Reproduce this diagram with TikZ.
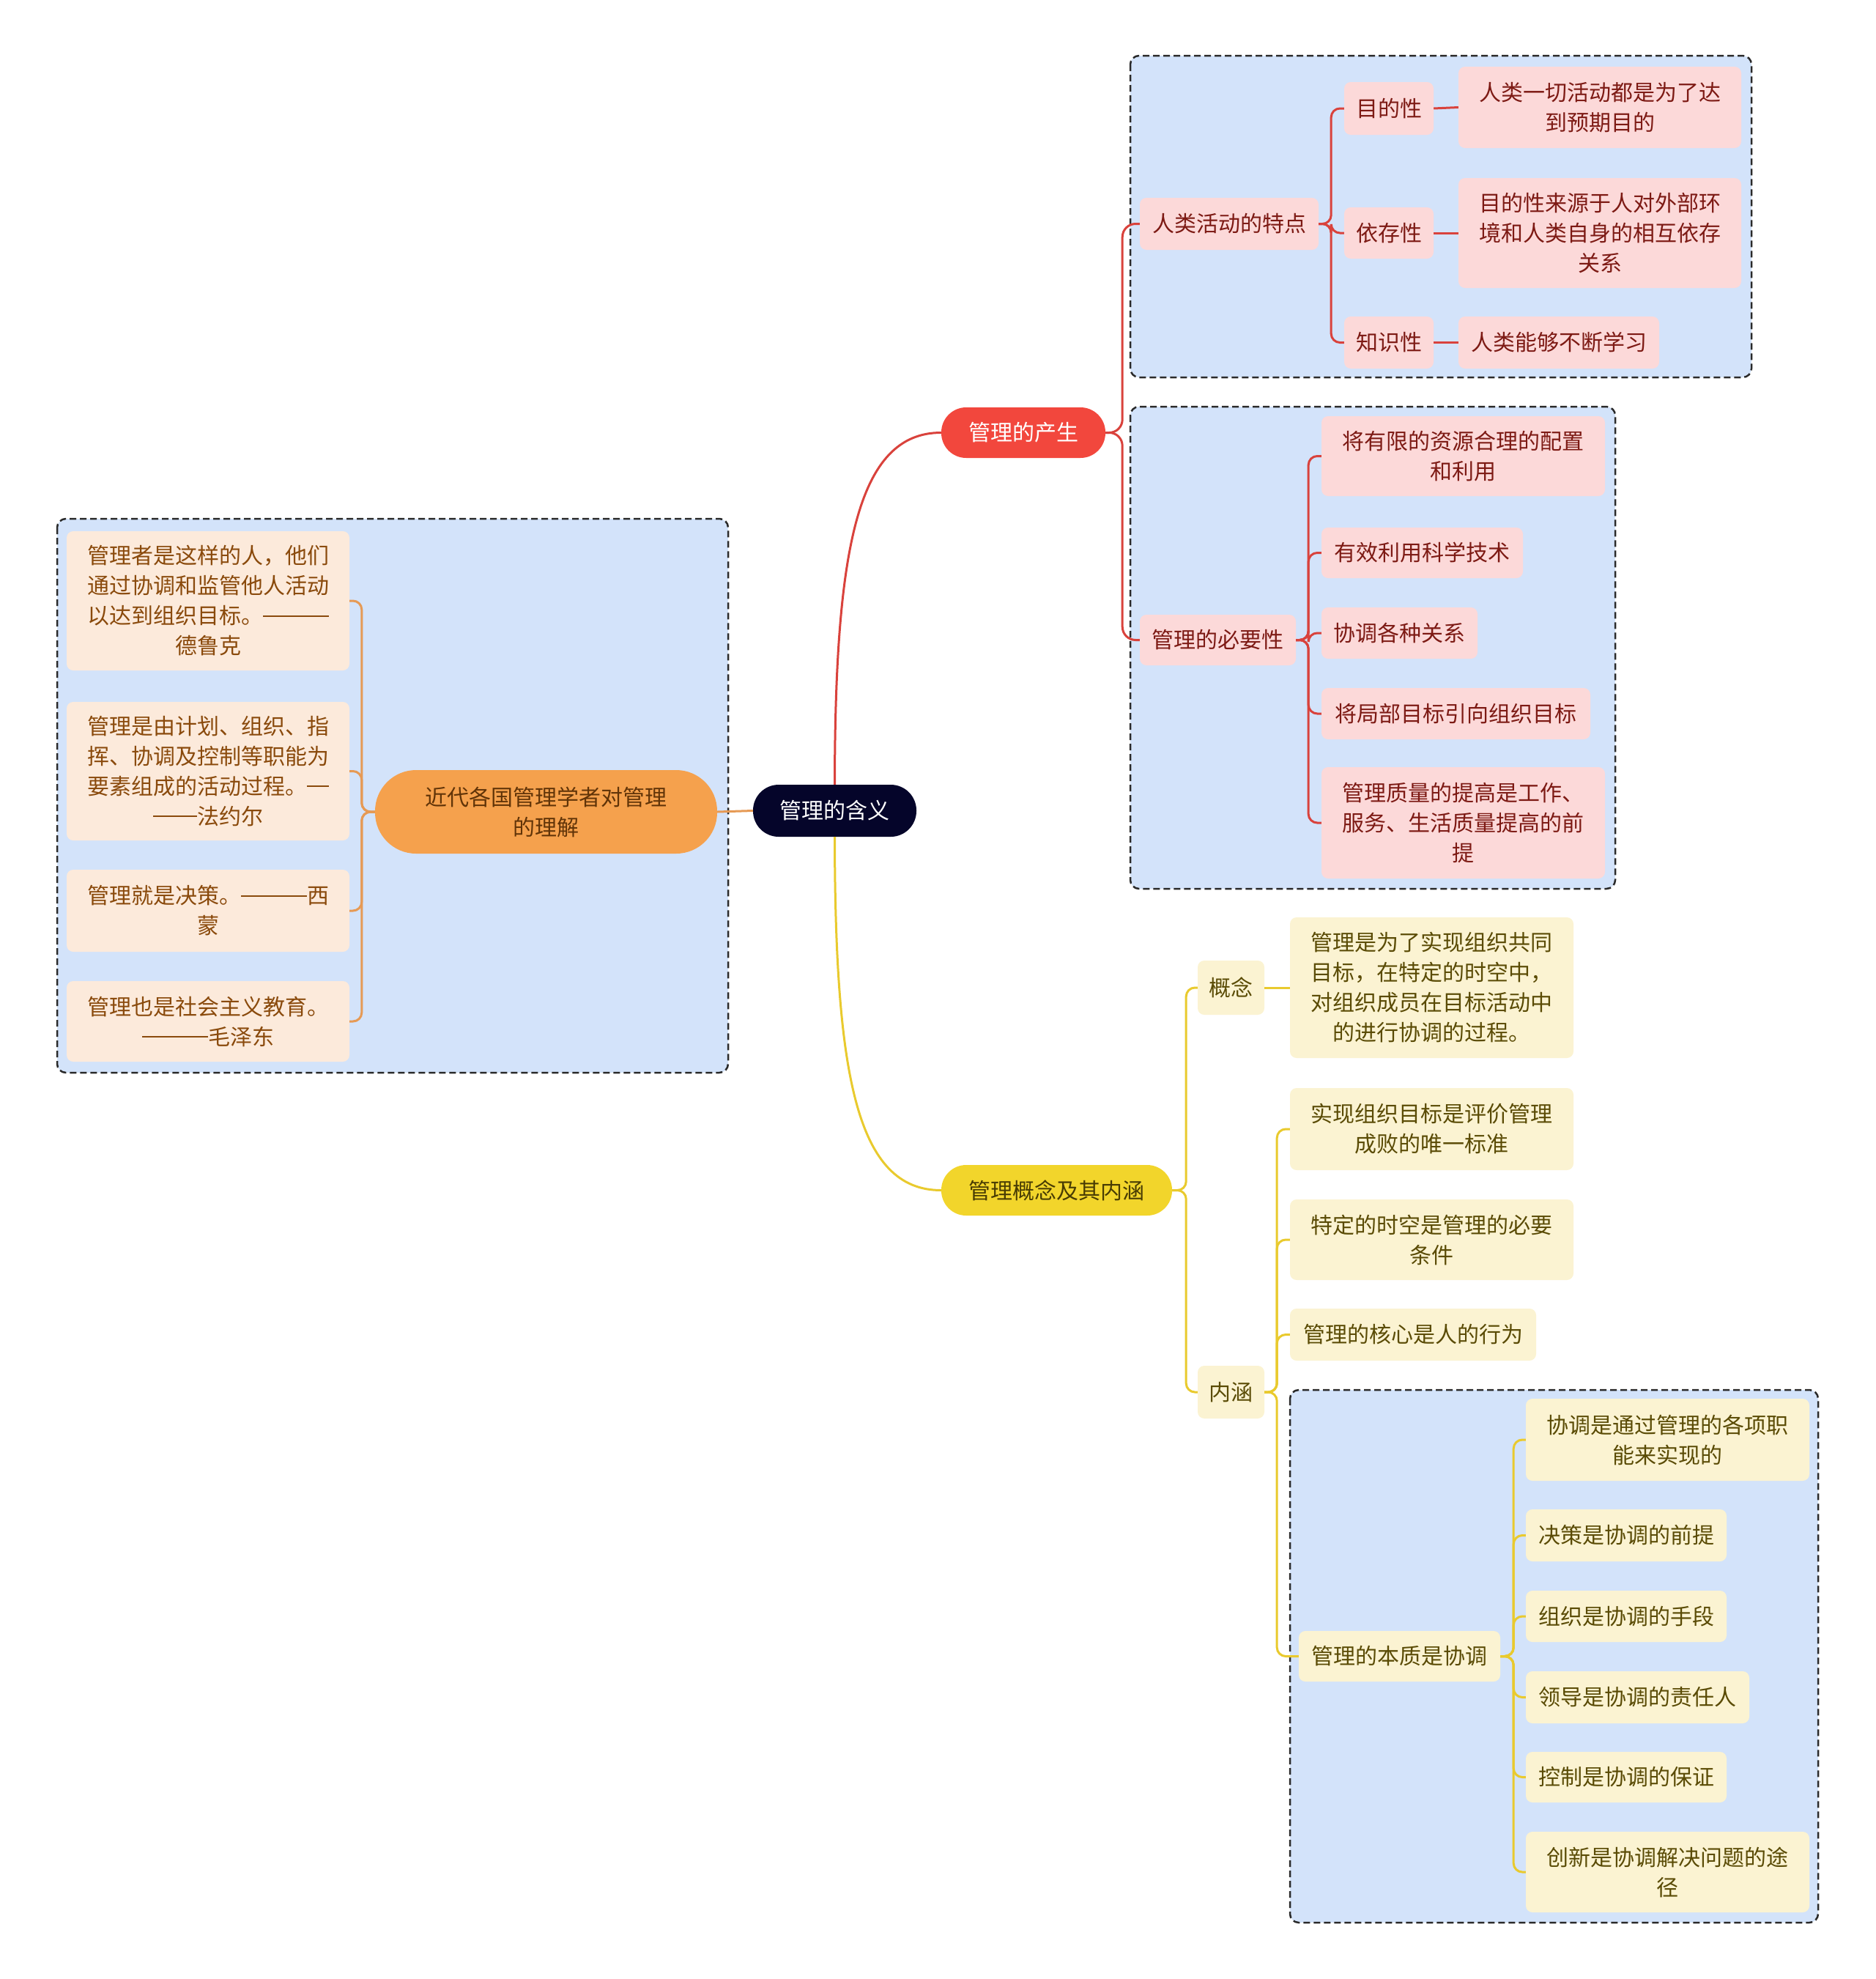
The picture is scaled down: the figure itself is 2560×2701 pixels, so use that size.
\documentclass[tikz,border=0pt]{standalone}
\usepackage{fontspec}
\setmainfont{Noto Sans CJK SC}
\newcommand\mydashes[1]{\rule[0.34em]{#1em}{0.065em}}
\definecolor{navy}{HTML}{05052A}
\definecolor{redmain}{HTML}{F2473D}
\definecolor{redline}{HTML}{D9423C}
\definecolor{pinkfill}{HTML}{FCD9D9}
\definecolor{pinktext}{HTML}{7D1A14}
\definecolor{orangemain}{HTML}{F5A14D}
\definecolor{orangeline}{HTML}{E69A55}
\definecolor{peachfill}{HTML}{FCEADB}
\definecolor{peachtext}{HTML}{8A4A0C}
\definecolor{yellowmain}{HTML}{F2D52B}
\definecolor{yellowline}{HTML}{E9CA2E}
\definecolor{yellowfill}{HTML}{FBF3D2}
\definecolor{yellowtext}{HTML}{5A4B05}
\definecolor{groupfill}{HTML}{D3E3FA}
\definecolor{groupline}{HTML}{2A2A2A}
\begin{document}
\begin{tikzpicture}[x=1pt,y=-1pt,
  base/.style={inner sep=0pt, align=center, font=\fontsize{30pt}{41pt}\selectfont},
  sz/.style 2 args={minimum width=#1pt, minimum height=#2pt},
  rootnode/.style={base, fill=navy, text=white, rounded corners=35pt},
  redmainnode/.style={base, fill=redmain, text=white, rounded corners=34pt},
  orangemainnode/.style={base, fill=orangemain, text=peachtext!70!black, rounded corners=56pt},
  yellowmainnode/.style={base, fill=yellowmain, text=yellowtext!80!black, rounded corners=34pt},
  pinkleaf/.style={base, fill=pinkfill, text=pinktext, rounded corners=9pt},
  peachleaf/.style={base, fill=peachfill, text=peachtext, rounded corners=9pt},
  yellowleaf/.style={base, fill=yellowfill, text=yellowtext, rounded corners=9pt},
  groupbox/.style={fill=groupfill, draw=groupline, line width=2.5pt, dash pattern=on 9pt off 5pt, rounded corners=12pt},
  rl/.style={draw=redline, line width=3pt, rounded corners=12pt},
  ol/.style={draw=orangeline, line width=3pt, rounded corners=12pt},
  yl/.style={draw=yellowline, line width=3pt, rounded corners=12pt}
]
\useasboundingbox (0,0) rectangle (2560,2701);

% groups
\path[groupbox] (78,708) rectangle (994,1464);
\path[groupbox] (1543,76) rectangle (2391,515);
\path[groupbox] (1543,555) rectangle (2205,1213);
\path[groupbox] (1761,1897) rectangle (2482,2624);

% root and main branches
\node[rootnode, sz={223}{71}] (root) at (1139.5,1106.5) {管理的含义};
\node[redmainnode, sz={224}{69}] (chansheng) at (1397,590.5) {管理的产生};
\node[orangemainnode, sz={467}{114}] (jindai) at (745.5,1108) {近代各国管理学者对管理\\的理解};
\node[yellowmainnode, sz={315}{69}] (gainian) at (1442.5,1624.5) {管理概念及其内涵};

% left (orange) leaves
\node[peachleaf, sz={386}{190}] (c1) at (284,820) {管理者是这样的人，他们\\通过协调和监管他人活动\\以达到组织目标。\mydashes{3}\\德鲁克};
\node[peachleaf, sz={386}{189}] (c2) at (284,1052.5) {管理是由计划、组织、指\\挥、协调及控制等职能为\\要素组成的活动过程。\mydashes{1}\\\mydashes{2}法约尔};
\node[peachleaf, sz={386}{112}] (c3) at (284,1243) {管理就是决策。\mydashes{3}西\\蒙};
\node[peachleaf, sz={386}{110}] (c4) at (284,1394) {管理也是社会主义教育。\\\mydashes{3}毛泽东};

% red branch
\node[pinkleaf, sz={244}{71}] (tedian) at (1678,305.5) {人类活动的特点};
\node[pinkleaf, sz={122}{72}] (mudi) at (1896,148) {目的性};
\node[pinkleaf, sz={386}{111}] (mudiL) at (2184,146.5) {人类一切活动都是为了达\\到预期目的};
\node[pinkleaf, sz={122}{70}] (yicun) at (1896,318) {依存性};
\node[pinkleaf, sz={386}{150}] (yicunL) at (2184,318) {目的性来源于人对外部环\\境和人类自身的相互依存\\关系};
\node[pinkleaf, sz={122}{71}] (zhishi) at (1896,467.5) {知识性};
\node[pinkleaf, sz={274}{71}] (zhishiL) at (2128,467.5) {人类能够不断学习};

\node[pinkleaf, sz={213}{69}] (biyao) at (1662.5,873.5) {管理的必要性};
\node[pinkleaf, sz={387}{109}] (n1) at (1997.5,622.5) {将有限的资源合理的配置\\和利用};
\node[pinkleaf, sz={275}{69}] (n2) at (1941.5,754.5) {有效利用科学技术};
\node[pinkleaf, sz={213}{70}] (n3) at (1910.5,864) {协调各种关系};
\node[pinkleaf, sz={367}{70}] (n4) at (1987.5,974) {将局部目标引向组织目标};
\node[pinkleaf, sz={387}{152}] (n5) at (1997.5,1123) {管理质量的提高是工作、\\服务、生活质量提高的前\\提};

% yellow branch
\node[yellowleaf, sz={91}{74}] (gn) at (1680.5,1348) {概念};
\node[yellowleaf, sz={387}{192}] (def) at (1954.5,1348) {管理是为了实现组织共同\\目标，在特定的时空中，\\对组织成员在目标活动中\\的进行协调的过程。};
\node[yellowleaf, sz={91}{72}] (nh) at (1680.5,1900) {内涵};
\node[yellowleaf, sz={387}{112}] (y1) at (1954.5,1541) {实现组织目标是评价管理\\成败的唯一标准};
\node[yellowleaf, sz={387}{110}] (y2) at (1954.5,1692) {特定的时空是管理的必要\\条件};
\node[yellowleaf, sz={336}{71}] (y3) at (1929,1821.5) {管理的核心是人的行为};
\node[yellowleaf, sz={275}{69}] (bz) at (1910.5,2260.5) {管理的本质是协调};
\node[yellowleaf, sz={387}{112}] (z1) at (2276.5,1965) {协调是通过管理的各项职\\能来实现的};
\node[yellowleaf, sz={274}{71}] (z2) at (2220,2095.5) {决策是协调的前提};
\node[yellowleaf, sz={274}{70}] (z3) at (2220,2206) {组织是协调的手段};
\node[yellowleaf, sz={305}{71}] (z4) at (2235.5,2316.5) {领导是协调的责任人};
\node[yellowleaf, sz={274}{69}] (z5) at (2220,2425.5) {控制是协调的保证};
\node[yellowleaf, sz={387}{110}] (z6) at (2276.5,2555) {创新是协调解决问题的途\\径};

% main connectors
\draw[draw=redline, line width=3pt] (root.north) .. controls (1140,750) and (1170,590.5) .. (chansheng.west);
\draw[draw=yellowline, line width=3pt] (root.south) .. controls (1140,1470) and (1170,1624.5) .. (gainian.west);
\draw[draw=orangeline, line width=3pt] (root.west) -- (jindai.east);

% orange brackets
\foreach \c in {c1,c2,c3,c4}
  \draw[ol] (jindai.west) -- ++(-18,0) |- (\c.east);

% red brackets
\draw[rl, rounded corners=18pt] (chansheng.east) -- ++(23,0) |- (tedian.west);
\draw[rl, rounded corners=18pt] (chansheng.east) -- ++(23,0) |- (biyao.west);
\foreach \c in {mudi,yicun,zhishi}
  \draw[rl] (tedian.east) -- ++(17,0) |- (\c.west);
\draw[rl] (mudi.east) -- (mudiL.west);
\draw[rl] (yicun.east) -- (yicunL.west);
\draw[rl] (zhishi.east) -- (zhishiL.west);
\foreach \c in {n1,n2,n3,n4,n5}
  \draw[rl] (biyao.east) -- ++(17,0) |- (\c.west);

% yellow brackets
\draw[yl] (gainian.east) -- ++(19,0) |- (gn.west);
\draw[yl] (gainian.east) -- ++(19,0) |- (nh.west);
\draw[yl] (gn.east) -- (def.west);
\foreach \c in {y1,y2,y3,bz}
  \draw[yl] (nh.east) -- ++(17,0) |- (\c.west);
\foreach \c in {z1,z2,z3,z4,z5,z6}
  \draw[yl] (bz.east) -- ++(18,0) |- (\c.west);
\end{tikzpicture}
\end{document}
